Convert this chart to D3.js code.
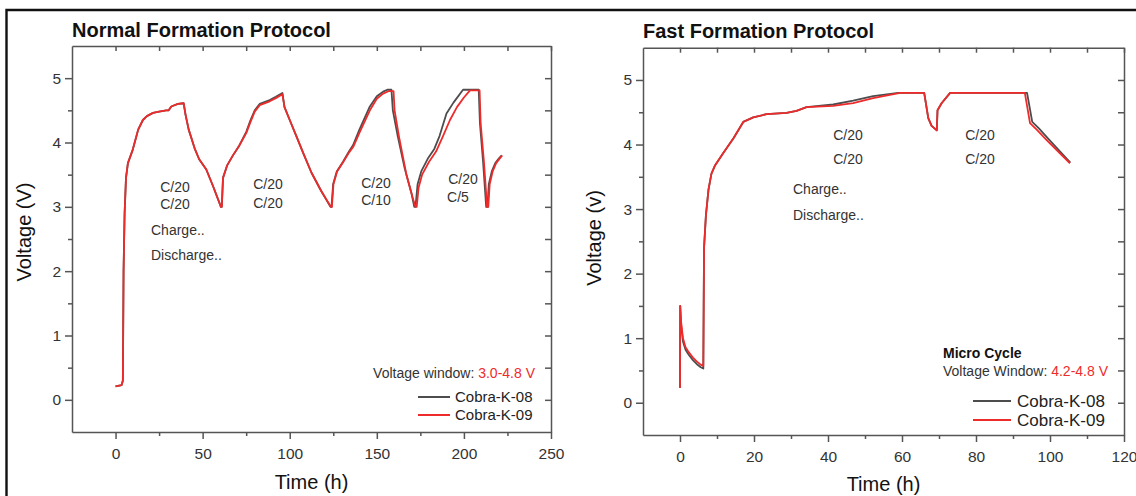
<!DOCTYPE html>
<html>
<head>
<meta charset="utf-8">
<script src="https://cdn.jsdelivr.net/npm/d3@7"></script>
<style>
  body { margin: 0; background: #fff; }
  svg { display: block; font-family: Arial, "Liberation Sans", sans-serif; }
</style>
</head>
<body>
<svg id="chart" width="1136" height="496"></svg>
<script>
// ---- data (time in h, voltage in V) ----
const normalK08 = [[0,0.21],[3.5,0.23],[4.2,0.3],[4.6,2.0],[5.2,2.9],[6,3.45],[7.1,3.68],[9.9,3.89],[13,4.2],[15.7,4.35],[18,4.41],[21.5,4.46],[25,4.48],[29.1,4.5],[30.5,4.5],[32,4.56],[35.8,4.6],[39.1,4.61],[40.2,4.43],[42,4.2],[45.4,3.91],[48,3.74],[52.1,3.58],[56,3.32],[60.5,3.0],[61,3.0],[61.7,3.45],[64,3.64],[67.4,3.8],[71,3.95],[75.1,4.17],[77.5,4.35],[79.9,4.5],[82.8,4.6],[88.5,4.66],[92,4.71],[95.8,4.77],[97,4.55],[100,4.35],[103.8,4.1],[108,3.82],[112.5,3.53],[118,3.25],[123.4,3.0],[124,3.0],[124.9,3.35],[127,3.55],[130.6,3.7],[134,3.86],[136.4,3.96],[140,4.2],[146,4.56],[150,4.72],[153.6,4.79],[156,4.82],[158.4,4.82],[159.2,4.5],[162,4.1],[166,3.6],[170,3.2],[171.5,3.0],[172.2,3.0],[173.4,3.35],[175.5,3.55],[179.5,3.76],[183,3.9],[186,4.1],[190,4.45],[194,4.62],[199.5,4.82],[208.5,4.82],[209.2,4.3],[211,3.7],[212.8,3.0],[213.5,3.0],[214.3,3.35],[216,3.55],[218,3.68],[220,3.75],[221.7,3.8]];
const normalK09 = [[0,0.21],[3.5,0.23],[4.2,0.3],[4.6,2.0],[5.2,2.9],[6,3.45],[7.1,3.68],[9.9,3.89],[13,4.2],[15.7,4.35],[18,4.41],[21.5,4.46],[25,4.48],[29.1,4.5],[30.5,4.5],[32,4.56],[35.8,4.6],[39.1,4.61],[40.2,4.43],[42,4.2],[45.4,3.91],[48,3.74],[52.1,3.58],[56,3.32],[60.5,3.0],[61,3.0],[61.7,3.45],[64,3.64],[67.4,3.8],[71,3.95],[75.1,4.15],[77.5,4.32],[79.9,4.48],[82.8,4.58],[88.5,4.64],[92,4.69],[95.8,4.75],[97,4.55],[100,4.35],[103.8,4.1],[108,3.82],[112.5,3.53],[118,3.25],[123.6,3.0],[124.2,3.0],[125.1,3.35],[127.2,3.55],[130.8,3.7],[134.2,3.85],[136.6,3.94],[140,4.15],[146,4.5],[150,4.68],[153.6,4.76],[157,4.8],[159.6,4.8],[160.2,4.5],[163,4.05],[167,3.5],[170.5,3.15],[172.2,3.0],[172.9,3.0],[174,3.3],[176,3.5],[180,3.7],[184,3.86],[188,4.1],[192,4.35],[196,4.55],[200,4.7],[203.5,4.81],[209,4.81],[209.6,4.3],[211.5,3.7],[213.3,3.0],[214,3.0],[214.8,3.35],[216.5,3.55],[218.5,3.68],[220.5,3.75],[222,3.8]];

const fastK08 = [[0,0.23],[0.05,1.5],[0.3,1.2],[0.8,0.95],[1.5,0.82],[2.4,0.74],[3.5,0.66],[4.5,0.6],[5.6,0.55],[6.3,0.53],[6.4,1.5],[6.5,2.4],[7,2.9],[7.7,3.3],[8.5,3.55],[9.5,3.68],[11.7,3.87],[14.5,4.1],[17.1,4.35],[19.8,4.42],[23.4,4.47],[28.8,4.49],[31.5,4.52],[34.2,4.58],[41.4,4.62],[46.8,4.68],[52.2,4.75],[59,4.8],[66,4.8],[67.1,4.41],[68,4.29],[69.4,4.22],[69.6,4.53],[70.7,4.64],[73,4.8],[93.8,4.8],[95.2,4.35],[97,4.25],[99.5,4.09],[105.5,3.72]];
const fastK09 = [[0,0.23],[0.05,1.5],[0.3,1.25],[0.8,1.0],[1.5,0.86],[2.4,0.78],[3.5,0.7],[4.5,0.64],[5.6,0.59],[6.3,0.57],[6.4,1.5],[6.5,2.4],[7,2.9],[7.7,3.3],[8.5,3.55],[9.5,3.68],[11.7,3.87],[14.5,4.1],[17.1,4.35],[19.8,4.42],[23.4,4.47],[28.8,4.49],[31.5,4.52],[34.2,4.58],[41.4,4.6],[46.8,4.64],[52.2,4.72],[59.5,4.8],[66,4.8],[67.1,4.41],[68,4.29],[69.4,4.22],[69.6,4.53],[70.7,4.64],[73,4.8],[93.2,4.8],[94.6,4.33],[96.4,4.23],[99.1,4.07],[105.4,3.71]];

const seriesNames = ["Cobra-K-08", "Cobra-K-09"];
const seriesColors = ["#4d4d4d", "#ee2b2b"];

const normalXTicks = [0, 50, 100, 150, 200, 250];
const fastXTicks = [0, 20, 40, 60, 80, 100, 120];
const yTicks = [0, 1, 2, 3, 4, 5];

const normalNotes = [["C/20", 175, 192], ["C/20", 175, 209], ["C/20", 268, 189], ["C/20", 268, 208], ["C/20", 376, 188], ["C/10", 376, 205], ["C/20", 463, 184], ["C/5", 458, 202]];
const fastNotes = [["C/20", 848, 140], ["C/20", 848, 164], ["C/20", 980, 140], ["C/20", 980, 164]];

const svg = d3.select("#chart");
const TXT = "#333";

// outer border of the figure
svg.append("path")
  .attr("d", "M6.5,500 V10 H1140")
  .attr("fill", "none")
  .attr("stroke", "#111")
  .attr("stroke-width", 2.4);

function panel(cfg) {
  const g = svg.append("g");
  const x = d3.scaleLinear().domain(cfg.xDomain).range(cfg.xRange);
  const y = d3.scaleLinear().domain([-0.5, 5.5]).range(cfg.yRange);
  const [x0, x1] = cfg.xRange, [y0, y1] = cfg.yRange;
  const step = cfg.xTicks[1] - cfg.xTicks[0];
  const xMinor = cfg.xTicks.slice(0, -1).map(d => d + step / 2);
  const yMinor = d3.range(0.5, 5, 1);
  const yAll = d3.range(0, 5.01, 0.5);

  const axStyle = sel => {
    sel.selectAll("path, line").attr("stroke", "#555").attr("stroke-width", 1.5);
    sel.selectAll("text").attr("fill", TXT).style("font-size", "15.5px");
  };

  // bottom
  g.append("g").attr("transform", `translate(0,${y0})`)
    .call(d3.axisBottom(x).tickValues(cfg.xTicks).tickSize(7).tickSizeOuter(0).tickPadding(6))
    .call(axStyle).call(s => s.selectAll(".tick text").attr("dy", "0.9em"));
  g.append("g").attr("transform", `translate(0,${y0})`)
    .call(d3.axisBottom(x).tickValues(xMinor).tickSize(4).tickFormat(""))
    .call(axStyle).call(s => s.select(".domain").remove());
  // top (ticks inward)
  g.append("g").attr("transform", `translate(0,${y1})`)
    .call(d3.axisTop(x).tickValues(cfg.xTicks.concat(xMinor)).tickSize(-5).tickSizeOuter(0).tickFormat(""))
    .call(axStyle);
  // left
  g.append("g").attr("transform", `translate(${x0},0)`)
    .call(d3.axisLeft(y).tickValues(yTicks).tickFormat(d3.format("d")).tickSize(7).tickSizeOuter(0).tickPadding(4))
    .call(axStyle);
  g.append("g").attr("transform", `translate(${x0},0)`)
    .call(d3.axisLeft(y).tickValues(yMinor).tickSize(4).tickFormat(""))
    .call(axStyle).call(s => s.select(".domain").remove());
  // right (ticks inward)
  g.append("g").attr("transform", `translate(${x1},0)`)
    .call(d3.axisRight(y).tickValues(yAll).tickSize(-6).tickSizeOuter(0).tickFormat(""))
    .call(axStyle);

  // title + axis labels
  g.append("text").attr("x", x0).attr("y", cfg.titleY)
    .attr("font-weight", "bold").attr("font-size", 20).attr("fill", "#111")
    .text(cfg.title);
  g.append("text").attr("transform", `translate(${cfg.yLabelX},${cfg.yLabelY}) rotate(-90)`)
    .attr("text-anchor", "middle").attr("font-size", 20).attr("fill", "#111")
    .text(cfg.yLabel);
  g.append("text").attr("x", (x0 + x1) / 2).attr("y", cfg.xLabelY)
    .attr("text-anchor", "middle").attr("font-size", 20).attr("fill", "#111")
    .text("Time (h)");

  // curves
  const line = d3.line().x(d => x(d[0])).y(d => y(d[1]));
  cfg.series.forEach((s, i) => {
    g.append("path").datum(s)
      .attr("d", line)
      .attr("fill", "none")
      .attr("stroke", seriesColors[i])
      .attr("stroke-width", 1.8)
      .attr("stroke-linejoin", "round");
  });

  // annotations
  cfg.notes.forEach(([t, nx, ny]) => {
    g.append("text").attr("x", nx).attr("y", ny).attr("text-anchor", "middle")
      .attr("font-size", 14).attr("fill", TXT).text(t);
  });
  cfg.phase.forEach(([t, nx, ny]) => {
    g.append("text").attr("x", nx).attr("y", ny)
      .attr("font-size", 14).attr("fill", TXT).text(t);
  });

  // legend
  const L = cfg.legend;
  seriesNames.forEach((name, i) => {
    const ly = L.y + i * L.gap;
    g.append("line").attr("x1", L.x1).attr("x2", L.x2).attr("y1", ly).attr("y2", ly)
      .attr("stroke", seriesColors[i]).attr("stroke-width", 2);
    g.append("text").attr("x", L.tx).attr("y", ly).attr("dy", "0.35em")
      .attr("font-size", L.size).attr("fill", "#222").text(name);
  });
  return g;
}

const left = panel({
  title: "Normal Formation Protocol", titleY: 37,
  xDomain: [-25, 250], xRange: [72, 551], yRange: [432, 46],
  xTicks: normalXTicks,
  yLabel: "Voltage (V)", yLabelX: 31, yLabelY: 232, xLabelY: 489,
  series: [normalK08, normalK09],
  notes: normalNotes,
  phase: [["Charge..", 151, 235], ["Discharge..", 151, 260]],
  legend: { x1: 418, x2: 450, tx: 455, y: 397, gap: 18, size: 15 }
});
const lw = left.append("text").attr("x", 535).attr("y", 378).attr("text-anchor", "end")
  .attr("font-size", 14).attr("fill", TXT);
lw.append("tspan").text("Voltage window: ");
lw.append("tspan").attr("fill", "#ee2b2b").text("3.0-4.8 V");

const right = panel({
  title: "Fast Formation Protocol", titleY: 38,
  xDomain: [-10, 120], xRange: [643, 1124], yRange: [435, 47.7],
  xTicks: fastXTicks,
  yLabel: "Voltage (v)", yLabelX: 601, yLabelY: 238, xLabelY: 491,
  series: [fastK08, fastK09],
  notes: fastNotes,
  phase: [["Charge..", 793, 194], ["Discharge..", 793, 220]],
  legend: { x1: 973, x2: 1011, tx: 1017, y: 401, gap: 19, size: 17 }
});
right.append("text").attr("x", 943).attr("y", 358).attr("font-size", 14)
  .attr("font-weight", "bold").attr("fill", "#111").text("Micro Cycle");
const rw = right.append("text").attr("x", 943).attr("y", 376).attr("font-size", 14).attr("fill", TXT);
rw.append("tspan").text("Voltage Window: ");
rw.append("tspan").attr("fill", "#ee2b2b").text("4.2-4.8 V");
</script>
</body>
</html>
